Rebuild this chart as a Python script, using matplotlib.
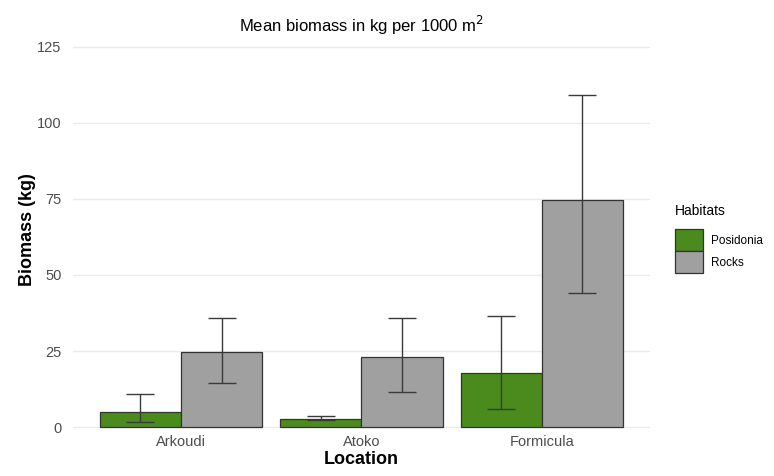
import numpy as np
import matplotlib.pyplot as plt

plt.rcParams['font.family'] = ['Liberation Sans', 'DejaVu Sans']

# data
locations = ['Arkoudi', 'Atoko', 'Formicula']
habitats = ['Posidonia', 'Rocks']
posidonia_mean = [4.8, 2.7, 17.7]
posidonia_low = [1.6, 2.3, 5.8]
posidonia_high = [10.9, 3.6, 36.6]
rocks_mean = [24.6, 22.9, 74.7]
rocks_low = [14.5, 11.6, 44.0]
rocks_high = [35.8, 35.8, 109.1]
yticks = [0, 25, 50, 75, 100, 125]

colors = ['#4B8B1E', '#A0A0A0']

fig = plt.figure(figsize=(7.74, 4.76), dpi=100)
ax = fig.add_axes([0.094, 0.0945, 0.746, 0.847])

x = np.arange(1, len(locations) + 1)
w = 0.45
series = [
    (posidonia_mean, posidonia_low, posidonia_high),
    (rocks_mean, rocks_low, rocks_high),
]
for i, (mean, low, high) in enumerate(series):
    xs = x + (i - 0.5) * w
    ax.bar(xs, mean, width=w, color=colors[i], edgecolor='#333333',
           linewidth=0.9, label=habitats[i], zorder=2)
    mean = np.array(mean)
    yerr = [mean - np.array(low), np.array(high) - mean]
    ax.errorbar(xs, mean, yerr=yerr, fmt='none', ecolor='#3a3a3a',
                elinewidth=1.0, capsize=10, capthick=1.0, zorder=3)

ax.set_xlim(0.4, 3.6)
ax.set_ylim(-1.3, 131.25)
ax.set_yticks(yticks)
ax.set_xticks(x)
ax.set_xticklabels(locations)
ax.grid(axis='y', color='#EBEBEB', linewidth=1.0, zorder=0)
ax.set_axisbelow(True)
for s in ax.spines.values():
    s.set_visible(False)
ax.tick_params(length=0, labelsize=10.5, labelcolor='#4D4D4D')
ax.tick_params(axis='y', pad=8)
ax.tick_params(axis='x', pad=3)

ax.set_xlabel('Location', fontsize=13, fontweight='bold', labelpad=1)
ax.set_ylabel('Biomass (kg)', fontsize=13, fontweight='bold', labelpad=1)

fig.text(361 / 774, 1 - 25 / 476, 'Mean biomass in kg per 1000 m$^2$',
         ha='center', va='center', fontsize=12)

leg = ax.legend(loc='upper left', bbox_to_anchor=(1.035, 0.575), title='Habitats',
                frameon=False, fontsize=8.5, title_fontsize=10,
                handlelength=2.4, handleheight=2.5, labelspacing=0.0,
                handletextpad=0.6, borderaxespad=0)
leg._legend_box.align = 'left'
leg._legend_box.sep = 8

fig.savefig('out.png', dpi=100)
